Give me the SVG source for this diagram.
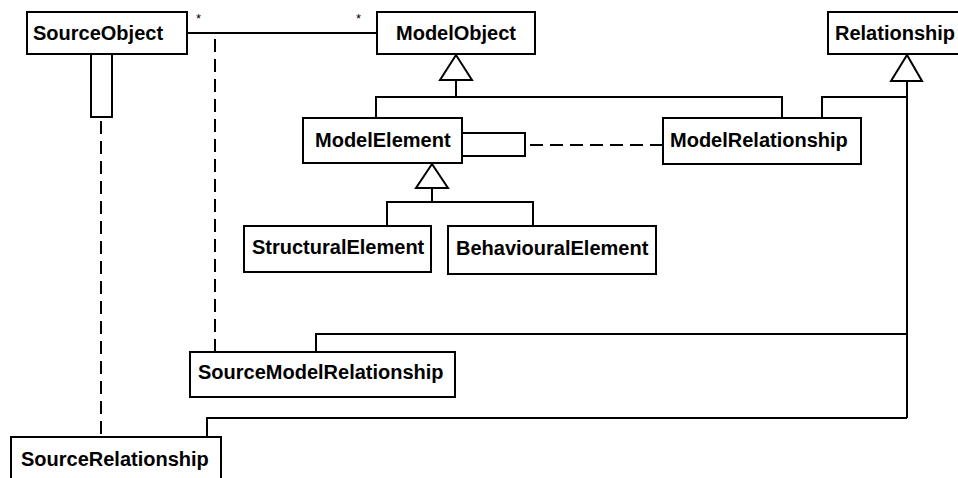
<svg xmlns="http://www.w3.org/2000/svg" width="958" height="478" viewBox="0 0 958 478">
<style>
.box{fill:#fff;stroke:#000;stroke-width:2}
.lbl{font-family:"Liberation Sans",Arial,sans-serif;font-weight:bold;font-size:20px;fill:#000}
.ln{fill:none;stroke:#000;stroke-width:2}
.dash{fill:none;stroke:#000;stroke-width:2;stroke-dasharray:13,7}
.tri{fill:#fff;stroke:#000;stroke-width:2}
.mult{font-family:"Liberation Sans",Arial,sans-serif;font-size:13px;fill:#000}
</style>
<rect width="958" height="478" fill="#fff"/>
<g id="connectors">
  <!-- association SourceObject - ModelObject -->
  <line class="ln" x1="187" y1="33" x2="377" y2="33"/>
  <text class="mult" x="196" y="23">*</text>
  <text class="mult" x="356" y="23">*</text>
  <!-- association class dashed -->
  <line class="dash" x1="215" y1="39" x2="215" y2="352"/>
  <!-- SourceObject self loop -->
  <polyline class="ln" points="91,54 91,117 112,117 112,54"/>
  <line class="dash" x1="101" y1="121" x2="101" y2="437"/>
  <!-- ModelElement self loop -->
  <polyline class="ln" points="462,133 525,133 525,156 462,156"/>
  <line class="dash" x1="530" y1="145" x2="663" y2="145"/>
  <!-- generalization to ModelObject -->
  <polyline class="ln" points="376,118 376,97 782,97 782,118"/>
  <line class="ln" x1="456" y1="80" x2="456" y2="97"/>
  <polygon class="tri" points="456,55 440,80 472,80"/>
  <!-- generalization to ModelElement -->
  <polyline class="ln" points="387,226 387,202 533,202 533,226"/>
  <line class="ln" x1="432" y1="188" x2="432" y2="202"/>
  <polygon class="tri" points="432,164 416,188 448,188"/>
  <!-- generalization to Relationship -->
  <line class="ln" x1="907" y1="81" x2="907" y2="418"/>
  <polyline class="ln" points="822,118 822,97 907,97"/>
  <polyline class="ln" points="316,352 316,334 907,334"/>
  <polyline class="ln" points="207,437 207,418 907,418"/>
  <polygon class="tri" points="907,55 891,81 922,81"/>
</g>
<g id="SourceObject">
  <rect class="box" x="27" y="12" width="160" height="42"/>
  <text class="lbl" x="33" y="40">SourceObject</text>
</g>
<g id="ModelObject">
  <rect class="box" x="377" y="12" width="158" height="42"/>
  <text class="lbl" x="396" y="40">ModelObject</text>
</g>
<g id="Relationship">
  <rect class="box" x="828" y="12" width="140" height="42"/>
  <text class="lbl" x="835" y="40">Relationship</text>
</g>
<g id="ModelElement">
  <rect class="box" x="303" y="118" width="159" height="45"/>
  <text class="lbl" x="315" y="147">ModelElement</text>
</g>
<g id="ModelRelationship">
  <rect class="box" x="663" y="118" width="198" height="46"/>
  <text class="lbl" x="670" y="147">ModelRelationship</text>
</g>
<g id="StructuralElement">
  <rect class="box" x="244" y="226" width="187" height="46"/>
  <text class="lbl" x="252" y="254">StructuralElement</text>
</g>
<g id="BehaviouralElement">
  <rect class="box" x="448" y="226" width="208" height="48"/>
  <text class="lbl" x="456" y="255">BehaviouralElement</text>
</g>
<g id="SourceModelRelationship">
  <rect class="box" x="190" y="352" width="265" height="45"/>
  <text class="lbl" x="198" y="379">SourceModelRelationship</text>
</g>
<g id="SourceRelationship">
  <rect class="box" x="11" y="437" width="210" height="50"/>
  <text class="lbl" x="21" y="466">SourceRelationship</text>
</g>
</svg>
